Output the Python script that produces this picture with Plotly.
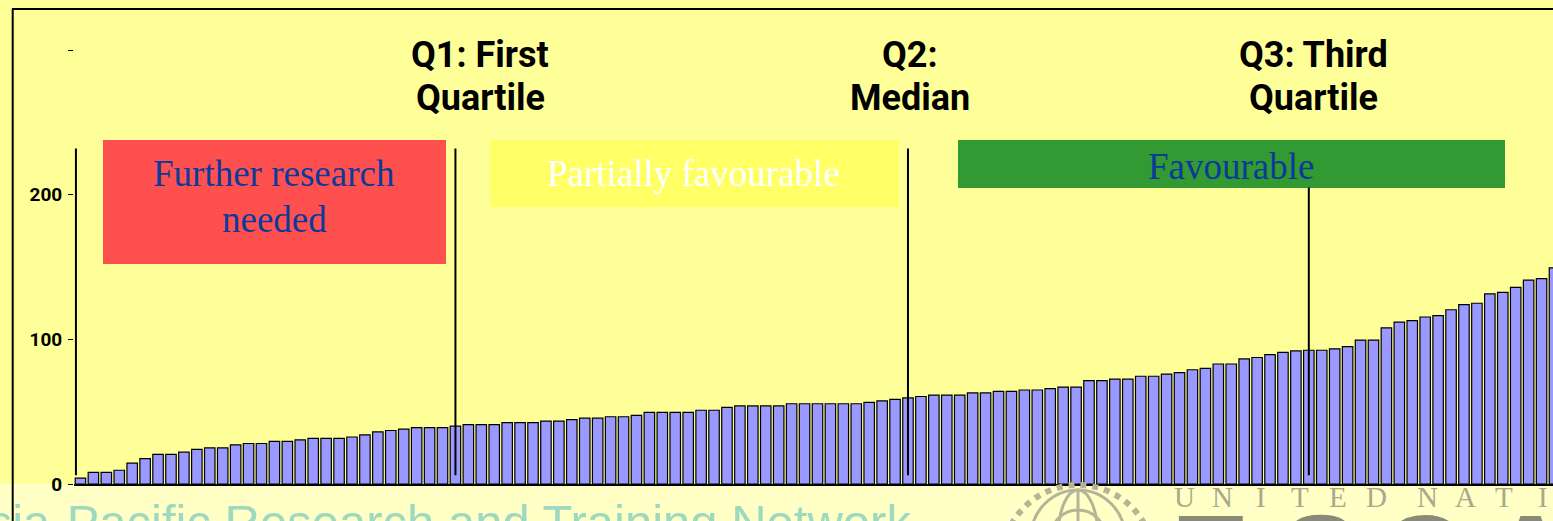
import plotly.graph_objects as go

# Sorted project scores, one bar per project
scores = [
    4, 8, 8, 9.5, 14.5, 17.5, 20.5, 20.5, 22, 24,
    25, 25, 27, 28, 28, 29.5, 29.5, 30.5, 31.5, 31.5,
    31.5, 32.5, 34, 36, 37, 38, 39, 39, 39, 40,
    41, 41, 41, 42.5, 42.5, 42.5, 43.5, 43.5, 44.5, 45.5,
    45.5, 46.5, 46.5, 47.5, 49.5, 49.5, 49.5, 49.5, 51, 51,
    53, 54, 54, 54, 54, 55.5, 55.5, 55.5, 55.5, 55.5,
    55.5, 56.5, 57.5, 58.5, 59.5, 60.5, 61.5, 61.5, 61.5, 63,
    63, 64, 64, 65, 65, 66, 67, 67, 71.5, 71.5,
    72.5, 72.5, 74.5, 74.5, 76, 77, 79, 80, 83, 83,
    86.5, 87.5, 89.5, 91, 92, 92.5, 92.5, 93.5, 95, 99.5,
    99.5, 108, 112, 113, 115.5, 116.5, 120.5, 124, 125, 131.5,
    132.5, 136, 141, 142, 149.5,
]
ranks = list(range(1, len(scores) + 1))

tick_values = [0, 100, 200, 300]
tick_labels = ["0", "100", "200", ""]

# Marker lines: (label, rank position, top score)
marker_lines = [("Min", 0.65, 232), ("Q1", 30, 232), ("Q2", 65, 232), ("Q3", 96, 205)]
marker_bottom = 6

quartile_titles = [
    ("Q1: First", "Quartile", 480),
    ("Q2:", "Median", 910),
    ("Q3: Third", "Quartile", 1313),
]

W, H = 1553, 521
ML, MR, MT, MB = 74, 0, 9, 37
PW = W - ML - MR
PH = H - MT - MB
Y_TOP = PH / 1.446


def px(x):
    return (x - ML) / PW


def py(y):
    return (H - MB - y) / PH


BG = "#FFFF99"
BLUE_TXT = "#0B3A9B"
SERIF = "Liberation Serif, Times New Roman, serif"
SANS = "Liberation Sans, Arial, sans-serif"
HEAD = "Roboto, Liberation Sans, Arial, sans-serif"

fig = go.Figure(
    go.Bar(
        x=ranks,
        y=scores,
        marker=dict(color="#9999FF", line=dict(color="black", width=1.2)),
        hoverinfo="x+y",
    )
)

shapes = []
annotations = []

# pale strip beneath the chart
shapes.append(dict(type="rect", xref="paper", yref="paper", x0=px(0), x1=px(W),
                   y0=py(H + 2), y1=py(484), fillcolor="#FFFFC6", line_width=0, layer="below"))

# outer frame
shapes.append(dict(type="line", xref="paper", yref="paper", x0=px(12), x1=px(W + 5),
                   y0=py(9), y1=py(9), line=dict(color="black", width=2)))
shapes.append(dict(type="line", xref="paper", yref="paper", x0=px(12.7), x1=px(12.7),
                   y0=py(9), y1=py(H + 5), line=dict(color="black", width=2)))

# category boxes
boxes = [
    (103, 446, 140, 264, "#FF5050"),
    (490, 899, 140, 207, "#FFFF66"),
    (958, 1505, 140, 188, "#339933"),
]
for x0, x1, y0, y1, col in boxes:
    shapes.append(dict(type="rect", xref="paper", yref="paper", x0=px(x0), x1=px(x1),
                       y0=py(y1), y1=py(y0), fillcolor=col, line_width=0, layer="above"))

# quartile marker lines
for _, xpos, top in marker_lines:
    shapes.append(dict(type="line", xref="x", yref="y", x0=xpos, x1=xpos,
                       y0=marker_bottom, y1=top, line=dict(color="black", width=2), layer="above"))

# UN emblem sketch
EMB = "#B4B496"
cx, cy = 1078, 537
shapes.append(dict(type="circle", xref="paper", yref="paper", x0=px(cx - 47), x1=px(cx + 47),
                   y0=py(cy + 47), y1=py(cy - 47), line=dict(color=EMB, width=3)))
shapes.append(dict(type="circle", xref="paper", yref="paper", x0=px(cx - 27), x1=px(cx + 27),
                   y0=py(cy + 27), y1=py(cy - 27), line=dict(color=EMB, width=3)))
shapes.append(dict(type="circle", xref="paper", yref="paper", x0=px(cx - 20), x1=px(cx + 20),
                   y0=py(cy + 47), y1=py(cy - 47), line=dict(color=EMB, width=3)))
shapes.append(dict(type="line", xref="paper", yref="paper", x0=px(cx), x1=px(cx),
                   y0=py(cy + 47), y1=py(cy - 47), line=dict(color=EMB, width=3)))
shapes.append(dict(type="line", xref="paper", yref="paper", x0=px(cx - 45), x1=px(cx + 45),
                   y0=py(cy - 14), y1=py(cy - 14), line=dict(color=EMB, width=3)))
shapes.append(dict(type="circle", xref="paper", yref="paper", x0=px(cx - 76), x1=px(cx + 76),
                   y0=py(cy + 100), y1=py(cy - 52), line=dict(color=EMB, width=6, dash="dot")))

# quartile headings
for l1, l2, xc in quartile_titles:
    annotations.append(dict(text=l1, x=px(xc), y=py(55), xref="paper", yref="paper",
                            xanchor="center", yanchor="middle", showarrow=False,
                            font=dict(family=HEAD, size=36, color="black", weight="bold")))
    annotations.append(dict(text=l2, x=px(xc), y=py(98), xref="paper", yref="paper",
                            xanchor="center", yanchor="middle", showarrow=False,
                            font=dict(family=HEAD, size=36, color="black", weight="bold")))

# box captions
captions = [
    ("Further research", 274, 174, BLUE_TXT),
    ("needed", 274, 219, BLUE_TXT),
    ("Partially favourable", 693, 174, "white"),
    ("Favourable", 1231, 166, BLUE_TXT),
]
for txt, xc, yc, col in captions:
    annotations.append(dict(text=txt, x=px(xc), y=py(yc), xref="paper", yref="paper",
                            xanchor="center", yanchor="middle", showarrow=False,
                            font=dict(family=SERIF, size=37, color=col)))

# footer watermark
annotations.append(dict(text="Asia-Pacific Research and Training Network", x=px(-47), y=py(522),
                        xref="paper", yref="paper", xanchor="left", yanchor="middle",
                        showarrow=False, font=dict(family=SANS, size=49, color="#9CD9BE")))

un_letters = "UNITED NATIONS"
x_letter = 1184
for ch in un_letters:
    if ch == " ":
        x_letter += 12
        continue
    annotations.append(dict(text=ch, x=px(x_letter), y=py(497), xref="paper", yref="paper",
                            xanchor="center", yanchor="middle", showarrow=False,
                            font=dict(family=SERIF, size=29, color="#A9A98C")))
    x_letter += 38.5

escap_letters = [("E", 1210), ("S", 1320), ("C", 1422), ("A", 1530)]
for ch, xc in escap_letters:
    annotations.append(dict(text=ch, x=px(xc), y=py(557), xref="paper", yref="paper",
                            xanchor="center", yanchor="middle", showarrow=False,
                            font=dict(family=SANS, size=118, color="#8A8A7A", weight="bold")))

fig.update_layout(
    width=W,
    height=H,
    margin=dict(l=ML, r=MR, t=MT, b=MB, pad=0),
    paper_bgcolor=BG,
    plot_bgcolor=BG,
    bargap=0.19,
    showlegend=False,
    shapes=shapes,
    annotations=annotations,
    xaxis=dict(range=[0.5, 0.5 + PW / 12.93], showticklabels=False, ticks="",
               showgrid=False, zeroline=False, showline=True, linecolor="black", linewidth=1.5),
    yaxis=dict(range=[0, Y_TOP], tickvals=tick_values, ticktext=tick_labels,
               ticks="outside", ticklen=5, tickwidth=1, tickcolor="black",
               ticklabelstandoff=2,
               tickfont=dict(family=HEAD, size=19, color="black", weight="bold"),
               showgrid=False, zeroline=False, showline=False),
)

fig.write_html("out.html")
